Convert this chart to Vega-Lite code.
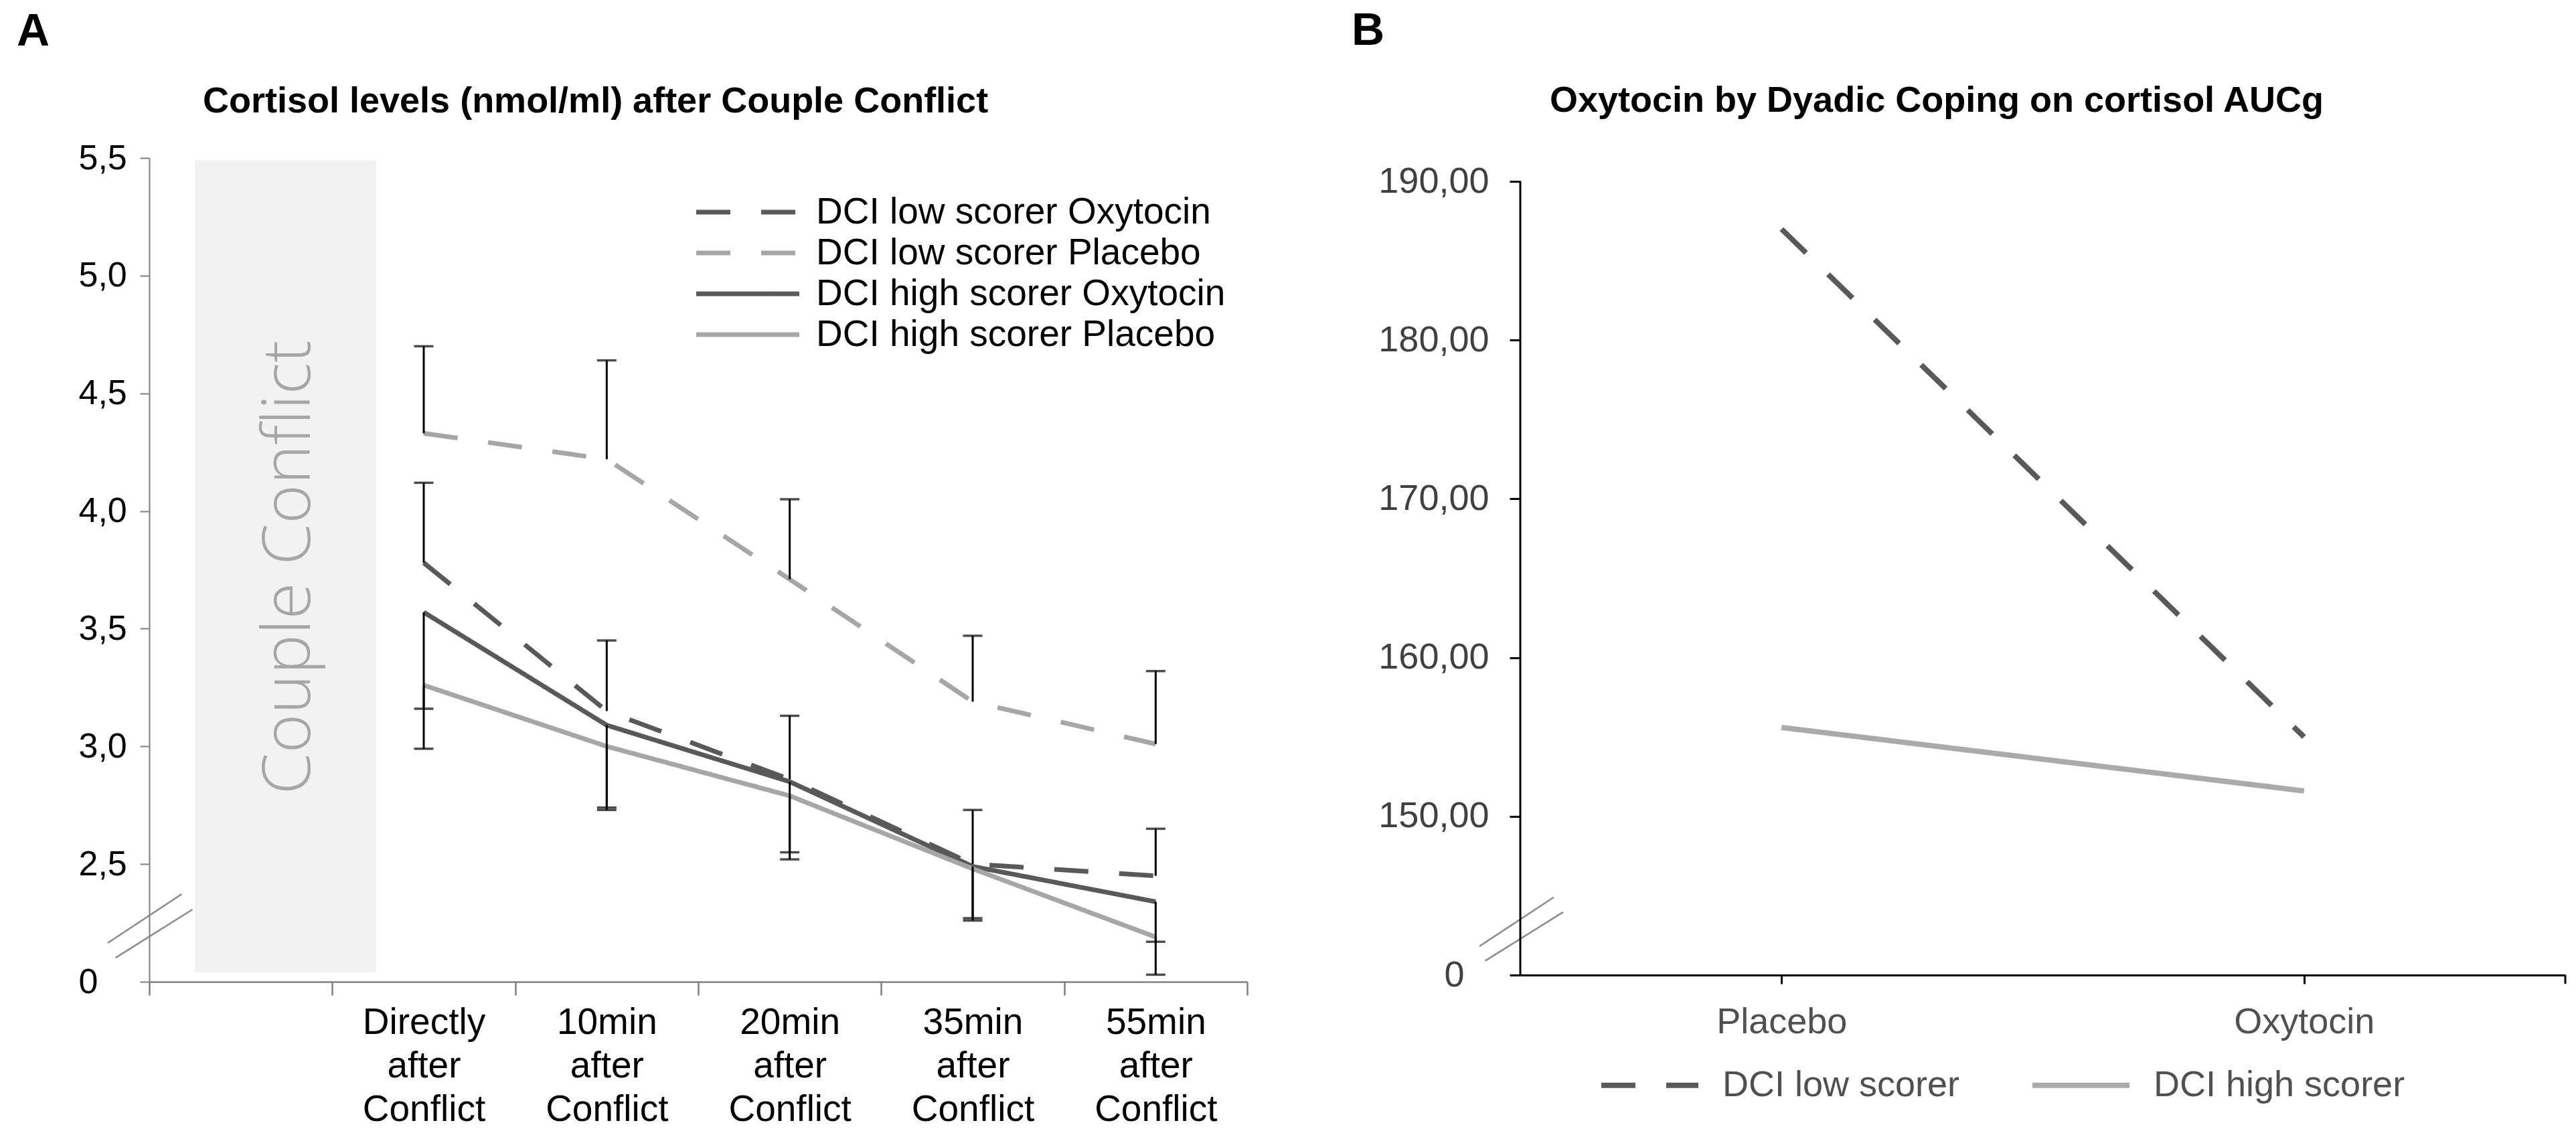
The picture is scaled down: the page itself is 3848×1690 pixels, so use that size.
{
  "$schema": "https://vega.github.io/schema/vega-lite/v6.json",
  "background": "white",
  "padding": {"left": 25, "top": 13, "right": 5, "bottom": 5},
  "spacing": 154,
  "config": {
    "font": "Liberation Sans",
    "view": {"stroke": null},
    "axis": {"grid": false, "title": null, "labelFlush": false, "labelOverlap": false, "labelFont": "Liberation Sans"},
    "title": {"font": "Liberation Sans", "color": "black"}
  },
  "resolve": {
    "scale": {"color": "independent", "strokeDash": "independent", "x": "independent", "y": "independent"},
    "legend": {"color": "independent", "strokeDash": "independent"}
  },
  "datasets": {
    "conflict": [
      {"phase": "Couple Conflict", "start": 0.25, "end": 1.24, "low": 2.04, "high": 5.49, "mid": 0.77, "center": 3.76}
    ],
    "breaksA": [
      {"x1": -0.227, "y1": 2.165, "x2": 0.177, "y2": 2.372},
      {"x1": -0.184, "y1": 2.102, "x2": 0.236, "y2": 2.307}
    ],
    "cortisol": [
      {"time": "Directly after Conflict", "minute": 0, "group": "DCI low scorer Oxytocin", "value": 3.78},
      {"time": "10min after Conflict", "minute": 10, "group": "DCI low scorer Oxytocin", "value": 3.15},
      {"time": "20min after Conflict", "minute": 20, "group": "DCI low scorer Oxytocin", "value": 2.86},
      {"time": "35min after Conflict", "minute": 35, "group": "DCI low scorer Oxytocin", "value": 2.50},
      {"time": "55min after Conflict", "minute": 55, "group": "DCI low scorer Oxytocin", "value": 2.45},
      {"time": "Directly after Conflict", "minute": 0, "group": "DCI low scorer Placebo", "value": 4.33},
      {"time": "10min after Conflict", "minute": 10, "group": "DCI low scorer Placebo", "value": 4.22},
      {"time": "20min after Conflict", "minute": 20, "group": "DCI low scorer Placebo", "value": 3.71},
      {"time": "35min after Conflict", "minute": 35, "group": "DCI low scorer Placebo", "value": 3.19},
      {"time": "55min after Conflict", "minute": 55, "group": "DCI low scorer Placebo", "value": 3.01},
      {"time": "Directly after Conflict", "minute": 0, "group": "DCI high scorer Oxytocin", "value": 3.57},
      {"time": "10min after Conflict", "minute": 10, "group": "DCI high scorer Oxytocin", "value": 3.09},
      {"time": "20min after Conflict", "minute": 20, "group": "DCI high scorer Oxytocin", "value": 2.85},
      {"time": "35min after Conflict", "minute": 35, "group": "DCI high scorer Oxytocin", "value": 2.49},
      {"time": "55min after Conflict", "minute": 55, "group": "DCI high scorer Oxytocin", "value": 2.34},
      {"time": "Directly after Conflict", "minute": 0, "group": "DCI high scorer Placebo", "value": 3.26},
      {"time": "10min after Conflict", "minute": 10, "group": "DCI high scorer Placebo", "value": 3.00},
      {"time": "20min after Conflict", "minute": 20, "group": "DCI high scorer Placebo", "value": 2.79},
      {"time": "35min after Conflict", "minute": 35, "group": "DCI high scorer Placebo", "value": 2.48},
      {"time": "55min after Conflict", "minute": 55, "group": "DCI high scorer Placebo", "value": 2.19}
    ],
    "errorsA": [
      {"time": "Directly after Conflict", "mean": 4.33, "bound": 4.70},
      {"time": "Directly after Conflict", "mean": 3.78, "bound": 4.12},
      {"time": "Directly after Conflict", "mean": 3.57, "bound": 3.16},
      {"time": "Directly after Conflict", "mean": 3.26, "bound": 2.99},
      {"time": "10min after Conflict", "mean": 4.22, "bound": 4.64},
      {"time": "10min after Conflict", "mean": 3.15, "bound": 3.45},
      {"time": "10min after Conflict", "mean": 3.09, "bound": 2.74},
      {"time": "10min after Conflict", "mean": 3.00, "bound": 2.73},
      {"time": "20min after Conflict", "mean": 3.71, "bound": 4.05},
      {"time": "20min after Conflict", "mean": 2.86, "bound": 3.13},
      {"time": "20min after Conflict", "mean": 2.85, "bound": 2.55},
      {"time": "20min after Conflict", "mean": 2.79, "bound": 2.52},
      {"time": "35min after Conflict", "mean": 3.19, "bound": 3.47},
      {"time": "35min after Conflict", "mean": 2.50, "bound": 2.73},
      {"time": "35min after Conflict", "mean": 2.49, "bound": 2.26},
      {"time": "35min after Conflict", "mean": 2.48, "bound": 2.27},
      {"time": "55min after Conflict", "mean": 3.01, "bound": 3.32},
      {"time": "55min after Conflict", "mean": 2.45, "bound": 2.65},
      {"time": "55min after Conflict", "mean": 2.34, "bound": 2.17},
      {"time": "55min after Conflict", "mean": 2.19, "bound": 2.03}
    ],
    "breaksB": [
      {"x1": -0.078, "y1": 141.82, "x2": 0.064, "y2": 144.9},
      {"x1": -0.067, "y1": 140.9, "x2": 0.082, "y2": 143.97}
    ],
    "frameB": [
      {"x1": 0, "y1": 140, "x2": 0, "y2": 190},
      {"x1": 2, "y1": 140, "x2": 2, "y2": 139.45}
    ],
    "auc": [
      {"condition": "Placebo", "scorer": "DCI low scorer", "auc": 187.0},
      {"condition": "Oxytocin", "scorer": "DCI low scorer", "auc": 155.0},
      {"condition": "Placebo", "scorer": "DCI high scorer", "auc": 155.6},
      {"condition": "Oxytocin", "scorer": "DCI high scorer", "auc": 151.6}
    ]
  },
  "hconcat": [
    {
      "title": {"text": "A", "anchor": "start", "frame": "group", "fontSize": 68, "fontWeight": "bold", "dx": -198, "offset": 43},
      "vconcat": [
        {
          "title": {"text": "Cortisol levels (nmol/ml) after Couple Conflict", "anchor": "start", "frame": "group", "fontSize": 54, "fontWeight": "bold", "dx": 80, "offset": 31},
          "width": 1640,
          "height": 1231,
          "resolve": {"scale": {"x": "independent"}},
          "layer": [
            {
              "layer": [
                {
                  "data": {"name": "conflict"},
                  "mark": {"type": "rect", "color": "#f2f2f2"},
                  "encoding": {
                    "x": {"field": "start", "type": "quantitative", "scale": {"domain": [0, 6], "nice": false, "zero": false}, "axis": null},
                    "x2": {"field": "end"},
                    "y": {
                      "field": "low", "type": "quantitative",
                      "scale": {"domain": [2, 5.5], "nice": false, "zero": false},
                      "axis": {
                        "values": [2, 2.5, 3, 3.5, 4, 4.5, 5, 5.5],
                        "labelExpr": "datum.value == 2 ? '0' : replace(format(datum.value, '.1f'), '.', ',')",
                        "labelAlign": "left", "labelPadding": 92, "tickSize": 14,
                        "labelFontSize": 52, "labelColor": "black",
                        "domainColor": "#7f7f7f", "tickColor": "#7f7f7f", "domainWidth": 2, "tickWidth": 2
                      }
                    },
                    "y2": {"field": "high"}
                  }
                },
                {
                  "data": {"name": "conflict"},
                  "mark": {"type": "text", "angle": 270, "fontSize": 100, "font": "Open Sans", "fontWeight": 300, "color": "#a6a6a6", "baseline": "middle", "align": "center"},
                  "encoding": {
                    "x": {"field": "mid", "type": "quantitative"},
                    "y": {"field": "center", "type": "quantitative"},
                    "text": {"field": "phase"}
                  }
                },
                {
                  "data": {"name": "breaksA"},
                  "mark": {"type": "rule", "color": "#8c8c8c", "strokeWidth": 2.5},
                  "encoding": {
                    "x": {"field": "x1", "type": "quantitative"},
                    "x2": {"field": "x2"},
                    "y": {"field": "y1", "type": "quantitative"},
                    "y2": {"field": "y2"}
                  }
                }
              ]
            },
            {
              "layer": [
                {
                  "data": {"name": "cortisol"},
                  "mark": {"type": "line", "strokeWidth": 7},
                  "encoding": {
                    "x": {
                      "field": "time", "type": "nominal",
                      "scale": {"domain": ["Couple Conflict", "Directly after Conflict", "10min after Conflict", "20min after Conflict", "35min after Conflict", "55min after Conflict"], "paddingInner": 0, "paddingOuter": 0},
                      "axis": {
                        "orient": "bottom",
                        "tickBand": "extent",
                        "labelExpr": "!isString(datum.value) || datum.value == 'Couple Conflict' ? '' : split(datum.value, ' ')",
                        "labelAngle": 0, "labelFontSize": 55, "labelLineHeight": 65, "labelPadding": 14,
                        "labelColor": "black", "labelLimit": 0, "tickSize": 20,
                        "domainColor": "#7f7f7f", "tickColor": "#7f7f7f", "domainWidth": 2.5, "tickWidth": 2.5
                      }
                    },
                    "y": {"field": "value", "type": "quantitative"},
                    "order": {"field": "minute", "type": "quantitative"},
                    "color": {
                      "field": "group", "type": "nominal",
                      "scale": {"domain": ["DCI low scorer Oxytocin", "DCI low scorer Placebo", "DCI high scorer Oxytocin", "DCI high scorer Placebo"], "range": ["#595959", "#a6a6a6", "#595959", "#a6a6a6"]},
                      "legend": {"orient": "none", "legendX": 864, "legendY": 51, "title": null, "symbolType": "M-2.906,0L2.906,0", "symbolSize": 2809, "symbolStrokeWidth": 7, "labelFontSize": 55, "labelColor": "black", "labelOffset": 72, "rowPadding": 3, "padding": 0, "labelLimit": 0}
                    },
                    "strokeDash": {
                      "field": "group", "type": "nominal",
                      "scale": {"domain": ["DCI low scorer Oxytocin", "DCI low scorer Placebo", "DCI high scorer Oxytocin", "DCI high scorer Placebo"], "range": [[51, 46], [51, 46], [1, 0], [1, 0]]},
                      "legend": {"orient": "none", "legendX": 864, "legendY": 51, "title": null, "symbolType": "M-2.906,0L2.906,0", "symbolSize": 2809, "symbolStrokeWidth": 7, "labelFontSize": 55, "labelColor": "black", "labelOffset": 72, "rowPadding": 3, "padding": 0, "labelLimit": 0}
                    }
                  }
                },
                {
                  "data": {"name": "errorsA"},
                  "mark": {"type": "rule", "color": "black", "strokeWidth": 3},
                  "encoding": {
                    "x": {"field": "time", "type": "nominal"},
                    "y": {"field": "mean", "type": "quantitative"},
                    "y2": {"field": "bound"}
                  }
                },
                {
                  "data": {"name": "errorsA"},
                  "mark": {"type": "tick", "color": "black", "size": 29, "thickness": 3.5},
                  "encoding": {
                    "x": {"field": "time", "type": "nominal"},
                    "y": {"field": "bound", "type": "quantitative"}
                  }
                }
              ]
            }
          ]
        }
      ]
    },
    {
      "title": {"text": "B", "anchor": "start", "frame": "group", "fontSize": 68, "fontWeight": "bold", "dx": -252, "offset": 43},
      "vconcat": [
        {
          "title": {"text": "Oxytocin by Dyadic Coping on cortisol AUCg", "anchor": "start", "frame": "group", "fontSize": 54, "fontWeight": "bold", "dx": 44, "offset": 58},
          "width": 1561,
          "height": 1221,
          "resolve": {"scale": {"x": "independent"}},
          "layer": [
            {
              "layer": [
                {
                  "data": {"name": "breaksB"},
                  "mark": {"type": "rule", "color": "#8c8c8c", "strokeWidth": 2.5},
                  "encoding": {
                    "x": {"field": "x1", "type": "quantitative", "scale": {"domain": [0, 2], "nice": false, "zero": false}, "axis": null},
                    "x2": {"field": "x2"},
                    "y": {
                      "field": "y1", "type": "quantitative",
                      "scale": {"domain": [140, 191.48], "nice": false, "zero": false},
                      "axis": {
                        "values": [140, 150, 160, 170, 180, 190],
                        "domain": false,
                        "labelExpr": "datum.value == 140 ? '0' : replace(format(datum.value, '.2f'), '.', ',')",
                        "labelPadding": {"condition": {"test": "datum.value == 140", "value": 68}, "value": 31},
                        "tickSize": 16, "labelFontSize": 54, "labelColor": "#404040",
                        "tickColor": "black", "tickWidth": 3
                      }
                    },
                    "y2": {"field": "y2"}
                  }
                },
                {
                  "data": {"name": "frameB"},
                  "mark": {"type": "rule", "color": "black", "strokeWidth": 3},
                  "encoding": {
                    "x": {"field": "x1", "type": "quantitative"},
                    "x2": {"field": "x2"},
                    "y": {"field": "y1", "type": "quantitative"},
                    "y2": {"field": "y2"}
                  }
                }
              ]
            },
            {
              "data": {"name": "auc"},
              "mark": {"type": "line", "strokeWidth": 8},
              "encoding": {
                "x": {
                  "field": "condition", "type": "nominal",
                  "scale": {"domain": ["Placebo", "Oxytocin"], "paddingInner": 0, "paddingOuter": 0},
                  "axis": {"orient": "bottom", "labelAngle": 0, "labelFontSize": 54, "labelColor": "#505050", "labelLimit": 0, "labelPadding": 30, "tickSize": 13, "tickWidth": 3, "domainWidth": 3, "domainColor": "black", "tickColor": "black"}
                },
                "y": {"field": "auc", "type": "quantitative"},
                "color": {
                  "field": "scorer", "type": "nominal",
                  "scale": {"domain": ["DCI low scorer", "DCI high scorer"], "range": ["#595959", "#aaaaaa"]},
                  "legend": {"orient": "none", "legendX": 117, "legendY": 1309, "direction": "horizontal", "columns": 2, "columnPadding": 92, "title": null, "symbolType": "stroke", "symbolSize": 21025, "symbolStrokeWidth": 8, "labelFontSize": 54, "labelColor": "#505050", "labelOffset": 32, "padding": 0, "labelLimit": 0}
                },
                "strokeDash": {
                  "field": "scorer", "type": "nominal",
                  "scale": {"domain": ["DCI low scorer", "DCI high scorer"], "range": [[51, 46], [1, 0]]},
                  "legend": {"orient": "none", "legendX": 117, "legendY": 1309, "direction": "horizontal", "columns": 2, "columnPadding": 92, "title": null, "symbolType": "stroke", "symbolSize": 21025, "symbolStrokeWidth": 8, "labelFontSize": 54, "labelColor": "#505050", "labelOffset": 32, "padding": 0, "labelLimit": 0}
                }
              }
            }
          ]
        }
      ]
    }
  ]
}
